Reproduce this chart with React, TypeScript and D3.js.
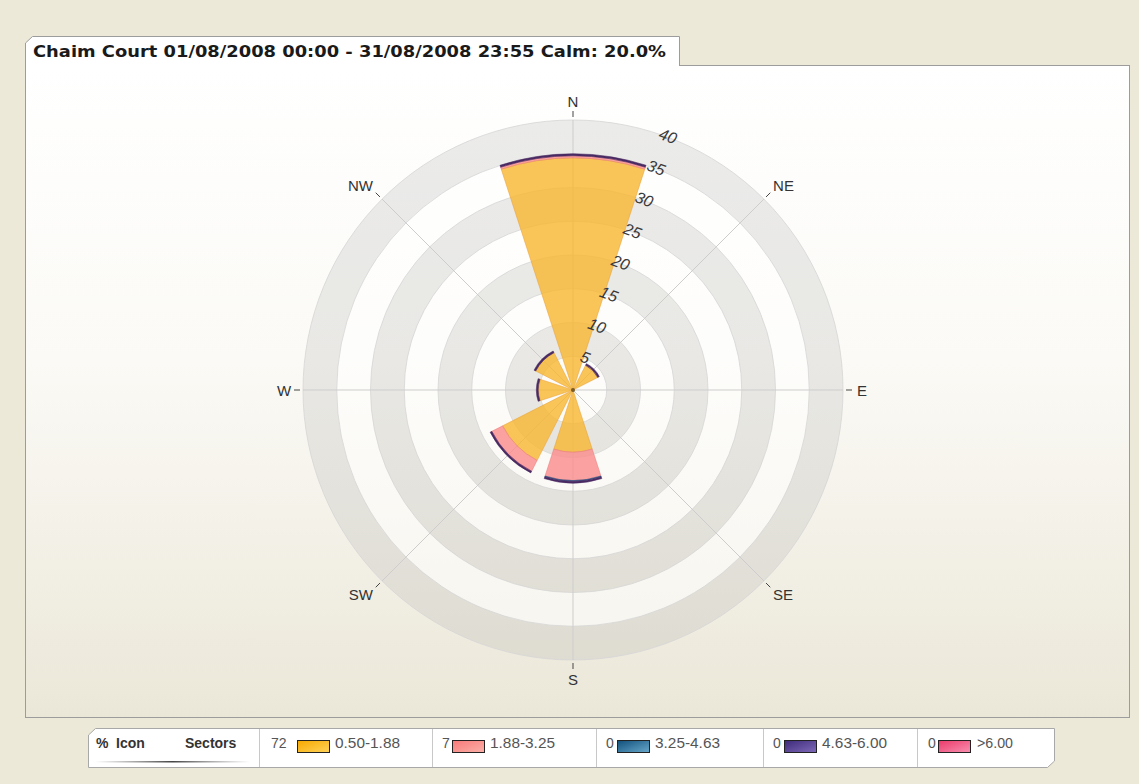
import React from "react";
import * as d3 from "d3";

// ---- data ----
const directions = ["N", "NE", "E", "SE", "S", "SW", "W", "NW"];
const bearings = [0, 45, 90, 135, 180, 225, 270, 315];
const binLabels = ["0.50-1.88", "1.88-3.25", "3.25-4.63", "4.63-6.00", ">6.00"];
const binPercents = ["72", "7", "0", "0", "0"];
// % frequency per direction for each speed bin (N, NE, E, SE, S, SW, W, NW)
const bin1 = [34.4, 4.1, 0, 0, 9.2, 11.7, 5.15, 6.2];
const bin2 = [0.3, 0, 0, 0, 4.2, 1.8, 0, 0];
const bin3 = [0, 0, 0, 0, 0.12, 0, 0, 0];
const bin4 = [0.3, 0.28, 0, 0, 0.28, 0.28, 0.28, 0.28];
const bin5 = [0, 0, 0, 0, 0, 0, 0, 0];
const ringTicks = [5, 10, 15, 20, 25, 30, 35, 40];
const titleText = "Chaim Court 01/08/2008 00:00 - 31/08/2008 23:55 Calm: 20.0%";

const bins = [bin1, bin2, bin3, bin4, bin5];
const binFill = ["#f8b730", "#fa8e8e", "#2f5f90", "#4a2a62", "#ef5580"];
const binStroke = ["#eaa23a", "#e98080", "#2a5080", "#4a2a62", "#d84a70"];
const binOpacity = [0.8, 0.82, 1, 1, 0.85];

const W = 1139;
const H = 784;
const cx = 573;
const cy = 390;
const R = 270;
const sectorHalf = 18; // degrees

export default function App() {
  const r = d3.scaleLinear().domain([0, 40]).range([0, R]);
  const toRad = (deg: number) => (deg * Math.PI) / 180;
  const arc = d3.arc<any>();

  const segments: { d: string; fill: string; stroke: string; op: number }[] = [];
  directions.forEach((_, di) => {
    let acc = 0;
    bins.forEach((b, bi) => {
      const v = b[di];
      if (v <= 0) return;
      const d = arc({
        innerRadius: r(acc),
        outerRadius: r(acc + v),
        startAngle: toRad(bearings[di] - sectorHalf),
        endAngle: toRad(bearings[di] + sectorHalf),
      }) as string;
      segments.push({ d, fill: binFill[bi], stroke: binStroke[bi], op: binOpacity[bi] });
      acc += v;
    });
  });

  const bands = ringTicks.map((t, i) => ({
    d: arc({
      innerRadius: r(t - 5),
      outerRadius: r(t),
      startAngle: 0,
      endAngle: Math.PI * 2,
    }) as string,
    gray: i % 2 === 1,
  }));

  const labelBearing = 20.5;
  const lb = toRad(labelBearing);

  const legendCells = [
    { x0: 259, num: 271, sw: 297, txt: 335 },
    { x0: 432, num: 442, sw: 452, txt: 490 },
    { x0: 596, num: 606, sw: 617, txt: 655 },
    { x0: 763, num: 773, sw: 784, txt: 822 },
    { x0: 917, num: 928, sw: 938, txt: 977 },
  ];

  return (
    <svg
      width={W}
      height={H}
      style={{ position: "absolute", left: 0, top: 0 }}
      fontFamily="'Liberation Sans', Arial, sans-serif"
    >
      <defs>
        <linearGradient id="panelGrad" x1="0" y1="0" x2="0" y2="1">
          <stop offset="0" stopColor="#ffffff" />
          <stop offset="0.45" stopColor="#fbfaf6" />
          <stop offset="1" stopColor="#ebe7d8" />
        </linearGradient>
        <linearGradient id="g1" x1="0" y1="0" x2="1" y2="1">
          <stop offset="0" stopColor="#f6a800" />
          <stop offset="1" stopColor="#ffd35a" />
        </linearGradient>
        <linearGradient id="g2" x1="0" y1="0" x2="1" y2="1">
          <stop offset="0" stopColor="#f77a7a" />
          <stop offset="1" stopColor="#fbb0a8" />
        </linearGradient>
        <linearGradient id="g3" x1="0" y1="0" x2="1" y2="1">
          <stop offset="0" stopColor="#0f4f7a" />
          <stop offset="1" stopColor="#6aa8cc" />
        </linearGradient>
        <linearGradient id="g4" x1="0" y1="0" x2="1" y2="1">
          <stop offset="0" stopColor="#3d2a78" />
          <stop offset="1" stopColor="#7e6ab8" />
        </linearGradient>
        <linearGradient id="g5" x1="0" y1="0" x2="1" y2="1">
          <stop offset="0" stopColor="#ea3a6a" />
          <stop offset="1" stopColor="#f890b0" />
        </linearGradient>
        <linearGradient id="underline" x1="0" y1="0" x2="1" y2="0">
          <stop offset="0" stopColor="#666" stopOpacity="0" />
          <stop offset="0.5" stopColor="#444" stopOpacity="1" />
          <stop offset="1" stopColor="#666" stopOpacity="0" />
        </linearGradient>
      </defs>

      <rect x={0} y={0} width={W} height={H} fill="#ece9d8" />

      <rect x={25.5} y={65.5} width={1104} height={652} fill="url(#panelGrad)" stroke="#9c9c9c" />

      <path
        d="M25.5,66 L25.5,43 L32.5,36.5 L679.5,36.5 L679.5,66"
        fill="#ffffff"
        stroke="#9c9c9c"
      />
      <text
        x={33}
        y={57}
        fontSize={15.5}
        fontWeight="bold"
        fontFamily="'DejaVu Sans', Verdana, sans-serif"
        fill="#1a1a1a"
        textLength={633}
        lengthAdjust="spacingAndGlyphs"
      >
        {titleText}
      </text>

      <g transform={`translate(${cx},${cy})`}>
        {bands.map((b, i) => (
          <path
            key={"band" + i}
            d={b.d}
            fill={b.gray ? "rgba(175,175,175,0.23)" : "rgba(255,255,255,0.5)"}
          />
        ))}
        {ringTicks.map((t) => (
          <circle key={"ring" + t} r={r(t)} fill="none" stroke="#d6d6d6" strokeWidth={0.8} />
        ))}
        {bearings.map((b, i) => {
          const a = toRad(b);
          const sx = Math.sin(a);
          const sy = -Math.cos(a);
          const diag = b % 90 !== 0;
          const lx = diag ? sx * (R + 13) : sx * (R + 19);
          const ly = diag ? sy * (R + 13) + (sy < 0 ? -4 : 4) : sy * (R + 19);
          const anchor = diag ? (sx < 0 ? "end" : "start") : "middle";
          return (
            <g key={"spoke" + i}>
              <line x1={0} y1={0} x2={sx * R} y2={sy * R} stroke="#cdcdcd" strokeWidth={1} />
              <line
                x1={sx * (R + 3)}
                y1={sy * (R + 3)}
                x2={sx * (R + 9)}
                y2={sy * (R + 9)}
                stroke="#444"
                strokeWidth={1}
              />
              <text
                x={lx}
                y={ly}
                textAnchor={anchor}
                dominantBaseline="central"
                fontSize={15}
                fill="#333"
              >
                {directions[i]}
              </text>
            </g>
          );
        })}
        {segments.map((s, i) => (
          <path
            key={"seg" + i}
            d={s.d}
            fill={s.fill}
            fillOpacity={s.op}
            stroke={s.stroke}
            strokeOpacity={0.7}
            strokeWidth={0.8}
          />
        ))}
        <circle r={2} fill="#7a5a20" />
        {ringTicks.map((t) => {
          const rr = r(t) + 1;
          const x = Math.sin(lb) * rr;
          const y = -Math.cos(lb) * rr;
          return (
            <text
              key={"lbl" + t}
              transform={`translate(${x},${y}) rotate(${labelBearing})`}
              textAnchor="middle"
              dominantBaseline="central"
              fontSize={16}
              fontStyle="italic"
              fill="#3a3a3a"
            >
              {t}
            </text>
          );
        })}
      </g>

      <path
        d="M88.5,735 L95.5,728.5 L1054.5,728.5 L1054.5,761 L1047.5,767.5 L88.5,767.5 Z"
        fill="#ffffff"
        stroke="#a8a8a8"
      />
      <text x={96} y={748} fontSize={14} fontWeight="bold" fill="#333">%</text>
      <text x={116} y={748} fontSize={14} fontWeight="bold" fill="#333">Icon</text>
      <text x={185} y={748} fontSize={14} fontWeight="bold" fill="#333">Sectors</text>
      <rect x={95} y={761} width={155} height={1.5} fill="url(#underline)" />
      {legendCells.map((c, i) => (
        <g key={"leg" + i}>
          <line x1={c.x0 + 0.5} y1={729} x2={c.x0 + 0.5} y2={767} stroke="#c8c8c8" />
          <text x={c.num} y={748} fontSize={14} fill="#555">
            {binPercents[i]}
          </text>
          <rect
            x={c.sw + 0.5}
            y={740.5}
            width={32}
            height={12}
            fill={`url(#g${i + 1})`}
            stroke="#222"
            strokeWidth={1}
          />
          <text
            x={c.txt}
            y={748}
            fontSize={14}
            fill="#555"
            textLength={binLabels[i].length > 5 ? 65 : 36}
            lengthAdjust="spacingAndGlyphs"
          >
            {binLabels[i]}
          </text>
        </g>
      ))}
    </svg>
  );
}
